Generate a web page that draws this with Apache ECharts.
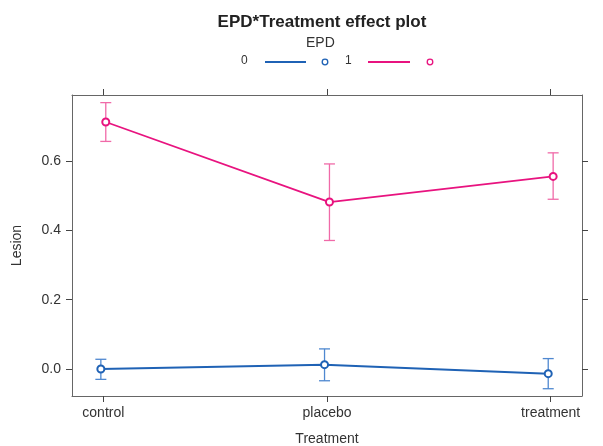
<!DOCTYPE html>
<html>
<head>
<meta charset="utf-8">
<script src="https://cdn.jsdelivr.net/npm/echarts@6/dist/echarts.min.js"></script>
<style>
  html, body { margin: 0; padding: 0; background: #fff; }
  #chart { width: 603px; height: 446px; }
</style>
</head>
<body>
<div id="chart"></div>
<script>
  // data
  var treatments = ['control', 'placebo', 'treatment']
  var fit0 = [0.000, 0.0125, -0.0135]
  var lower0 = [-0.030, -0.034, -0.057]
  var upper0 = [0.028, 0.058, 0.030]
  var fit1 = [0.713, 0.482, 0.556]
  var lower1 = [0.657, 0.371, 0.490]
  var upper1 = [0.769, 0.592, 0.624]
  var yTicks = [0.0, 0.2, 0.4, 0.6]

  var blue = '#1f62b5'
  var blueLight = '#4f88d0'
  var pink = '#e8137f'
  var pinkLight = '#f06aa8'
  var dodge = 0.011
  var font = 'Liberation Sans, Arial, sans-serif'

  function points (fit, off) {
    return fit.map(function (v, i) { return [i + off, v] })
  }
  function bars (lo, hi, off) {
    return lo.map(function (v, i) { return [i + off, v, hi[i]] })
  }

  function errorBar (color) {
    return function (params, api) {
      var x = api.value(0)
      var lo = api.coord([x, api.value(1)])
      var hi = api.coord([x, api.value(2)])
      var w = 5.5
      var style = { stroke: color, lineWidth: 1.3 }
      return {
        type: 'group',
        children: [
          { type: 'line', shape: { x1: lo[0], y1: lo[1], x2: hi[0], y2: hi[1] }, style: style },
          { type: 'line', shape: { x1: lo[0] - w, y1: lo[1], x2: lo[0] + w, y2: lo[1] }, style: style },
          { type: 'line', shape: { x1: hi[0] - w, y1: hi[1], x2: hi[0] + w, y2: hi[1] }, style: style }
        ]
      }
    }
  }

  var axisLine = { show: true, onZero: false, lineStyle: { color: '#666', width: 1 } }
  var textStyle = { color: '#333', fontSize: 14, fontFamily: font }
  var tickStyle = { color: '#444' }

  var chart = echarts.init(document.getElementById('chart'))
  var option = {
    animation: false,
    title: {
      text: 'EPD*Treatment effect plot',
      left: 317,
      top: 9,
      textAlign: 'center',
      textStyle: { fontSize: 17, fontWeight: 'bold', color: '#222', fontFamily: font }
    },
    graphic: [
      { type: 'text', left: 306, top: 36, style: { text: 'EPD', fill: '#333', fontSize: 14, fontFamily: font } },
      { type: 'text', left: 241, top: 55, style: { text: '0', fill: '#333', fontSize: 12, fontFamily: font } },
      { type: 'line', shape: { x1: 265, y1: 62, x2: 306, y2: 62 }, style: { stroke: blue, lineWidth: 2 } },
      { type: 'circle', shape: { cx: 325, cy: 62, r: 2.8 }, style: { stroke: blue, fill: '#fff', lineWidth: 1.3 } },
      { type: 'text', left: 345, top: 55, style: { text: '1', fill: '#333', fontSize: 12, fontFamily: font } },
      { type: 'line', shape: { x1: 368, y1: 62, x2: 410, y2: 62 }, style: { stroke: pink, lineWidth: 2 } },
      { type: 'circle', shape: { cx: 430, cy: 62, r: 2.8 }, style: { stroke: pink, fill: '#fff', lineWidth: 1.3 } }
    ],
    grid: { left: 72, right: 21, top: 95, bottom: 50, outerBoundsMode: 'none', containLabel: false },
    xAxis: [{
      type: 'value',
      min: -0.14,
      max: 2.14,
      name: 'Treatment',
      nameLocation: 'middle',
      nameGap: 36,
      nameTextStyle: textStyle,
      axisLine: axisLine,
      splitLine: { show: false },
      axisTick: { show: true, length: 6, customValues: [0, 1, 2], lineStyle: tickStyle },
      axisLabel: {
        customValues: [0, 1, 2],
        margin: 10,
        color: '#333', fontSize: 14, fontFamily: font,
        formatter: function (v) { return treatments[Math.round(v)] }
      }
    }, {
      type: 'value',
      position: 'top',
      min: -0.14,
      max: 2.14,
      axisLine: axisLine,
      splitLine: { show: false },
      axisTick: { show: true, length: 6, customValues: [0, 1, 2], lineStyle: tickStyle },
      axisLabel: { show: false }
    }],
    yAxis: [{
      type: 'value',
      min: -0.078,
      max: 0.791,
      name: 'Lesion',
      nameLocation: 'middle',
      nameGap: 48,
      nameTextStyle: textStyle,
      axisLine: axisLine,
      splitLine: { show: false },
      axisTick: { show: true, length: 6, customValues: yTicks, lineStyle: tickStyle },
      axisLabel: {
        customValues: yTicks,
        margin: 11,
        color: '#333', fontSize: 14, fontFamily: font,
        formatter: function (v) { return v.toFixed(1) }
      }
    }, {
      type: 'value',
      position: 'right',
      min: -0.078,
      max: 0.791,
      axisLine: axisLine,
      splitLine: { show: false },
      axisTick: { show: true, length: 6, customValues: yTicks, lineStyle: tickStyle },
      axisLabel: { show: false }
    }],
    series: [{
      name: '0',
      type: 'custom',
      renderItem: errorBar(blueLight),
      data: bars(lower0, upper0, -dodge),
      z: 2
    }, {
      name: '1',
      type: 'custom',
      renderItem: errorBar(pinkLight),
      data: bars(lower1, upper1, dodge),
      z: 2
    }, {
      name: '0',
      type: 'line',
      data: points(fit0, -dodge),
      symbol: 'emptyCircle',
      symbolSize: 7,
      lineStyle: { color: blue, width: 2 },
      itemStyle: { color: blue, borderWidth: 2 },
      z: 3
    }, {
      name: '1',
      type: 'line',
      data: points(fit1, dodge),
      symbol: 'emptyCircle',
      symbolSize: 7,
      lineStyle: { color: pink, width: 1.8 },
      itemStyle: { color: pink, borderWidth: 1.8 },
      z: 3
    }]
  }
  chart.setOption(option)
</script>
</body>
</html>
